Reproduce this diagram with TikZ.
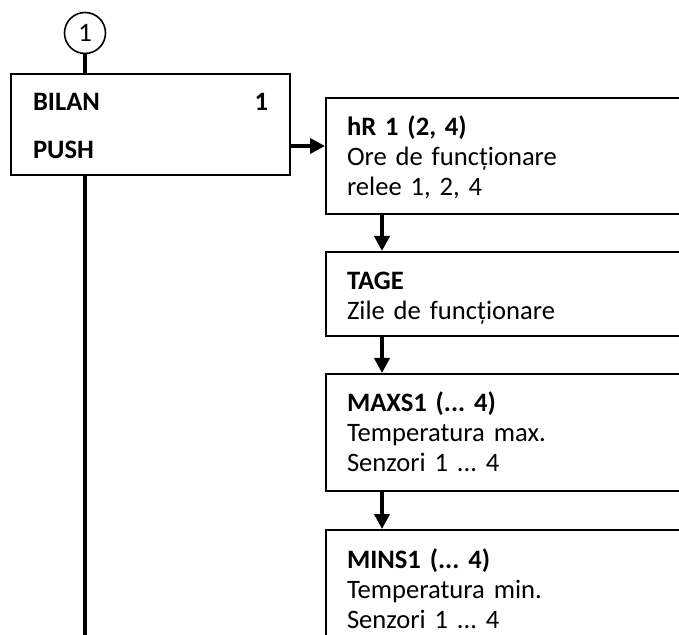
\documentclass[tikz,border=0pt]{standalone}
\usepackage{fontspec}
\setmainfont{Carlito}
\usetikzlibrary{arrows.meta, positioning}

\begin{document}
\begin{tikzpicture}[
    x=0.5pt, y=-0.5pt,
    node distance=18pt,
    box/.style={rectangle, draw, line width=1pt, anchor=north west,
                align=left, inner xsep=10.5pt, inner ysep=0pt,
                text width=194pt, text height=19pt,
                font=\fontsize{13.3}{15}\selectfont\frenchspacing},
    arr/.style={-{Triangle[length=7.5pt,width=7.5pt]}, line width=2pt},
    trunk/.style={line width=2pt}
]
\clip (0,0) rectangle (679,635);
\node[circle, draw, line width=0.8pt, minimum size=20.5pt, inner sep=0pt,
      font=\fontsize{13.3}{15}\selectfont] (c1) at (85,33) {1};
\node[box, text width=117.5pt, inner xsep=11pt, text height=18.5pt, text depth=32pt] (bilan) at (10,73)
     {\textbf{BILAN}\hfill\textbf{1}\\[9pt]\textbf{PUSH}};
\node[box, text depth=39pt] (hr) at (325,97)
     {\textbf{hR 1 (2, 4)}\\Ore de funcționare\\relee 1, 2, 4};
\node[box, text depth=23pt, below=of hr] (tage)
     {\textbf{TAGE}\\Zile de funcționare};
\node[box, text depth=39.5pt, below=of tage] (maxs)
     {\textbf{MAXS1 (... 4)}\\Temperatura max.\\Senzori 1 ... 4};
\node[box, text depth=61pt, below=18.5pt of maxs] (mins)
     {\textbf{MINS1 (... 4)}\\Temperatura min.\\Senzori 1 ... 4};
\coordinate (bottom) at (85,640);
\coordinate (out) at ([yshift=-10.75pt]bilan.east);
\draw[trunk] (c1) -- (c1 |- bilan.north);
\draw[trunk] (c1 |- bilan.south) -- (bottom);
\draw[arr] (out) -- (out -| hr.west);
\draw[arr] ([xshift=28.5pt]hr.south west) -- ([xshift=28.5pt]tage.north west);
\draw[arr] ([xshift=28.5pt]tage.south west) -- ([xshift=28.5pt]maxs.north west);
\draw[arr] ([xshift=28.5pt]maxs.south west) -- ([xshift=28.5pt]mins.north west);
\end{tikzpicture}
\end{document}
